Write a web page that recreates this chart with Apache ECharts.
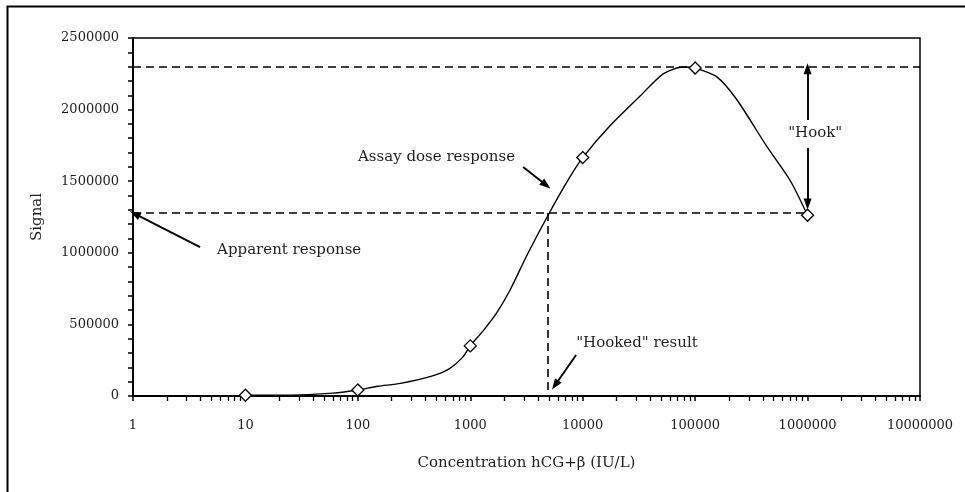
<!DOCTYPE html>
<html>
<head>
<meta charset="utf-8">
<script src="https://cdn.jsdelivr.net/npm/echarts@6/dist/echarts.min.js"></script>
<style>
  html, body { margin: 0; padding: 0; background: #fff; }
  #chart { width: 965px; height: 492px; }
</style>
</head>
<body>
<div id="chart"></div>
<script>
// ---- Data ----
// Measured standards (diamond markers)
const markerConc = [10, 100, 1000, 10000, 100000, 1000000];
const markerSignal = [5000, 42000, 350000, 1665000, 2290000, 1262000];

// Smoothed dose-response curve
const curveConc = [10, 30, 60, 100, 150, 240, 470, 650, 850, 1000, 1300, 1700, 2260, 3200, 5100, 7700, 10000, 17400, 32400, 52000, 78000, 100000, 157000, 236000, 437000, 700000, 1000000];
const curveSignal = [5000, 8000, 20000, 42000, 68000, 88000, 142000, 190000, 268000, 350000, 455000, 575000, 740000, 985000, 1285000, 1530000, 1665000, 1885000, 2095000, 2250000, 2298000, 2290000, 2227000, 2067000, 1739000, 1505000, 1262000];

// Tick labels
const xTickLabels = ['1', '10', '100', '1000', '10000', '100000', '1000000', '10000000'];
const yTickLabels = ['0', '500000', '1000000', '1500000', '2000000', '2500000'];

// Reference levels
const peakSignal = 2300000;
const apparentSignal = 1278000;
const hookedConc = 4900;

// Annotation texts
const annoTexts = ['Apparent response', 'Assay dose response', '"Hooked" result', '"Hook"'];

// ---- Chart ----
const FONT = 'DejaVu Serif';
const TXT = '#1e1e1e';
const chart = echarts.init(document.getElementById('chart'), null, { renderer: 'canvas' });

const curveData = curveConc.map((c, i) => [c, curveSignal[i]]);
const markerData = markerConc.map((c, i) => [c, markerSignal[i]]);

function dashed(a, b) {
  return [
    { coord: a, symbol: 'none', lineStyle: { type: [8, 5], width: 1.6, color: '#000' } },
    { coord: b, symbol: 'none' }
  ];
}
function arrow(a, b) {
  return [
    { coord: a, symbol: 'none', lineStyle: { type: 'solid', width: 1.9, color: '#000' } },
    { coord: b, symbol: 'triangle', symbolSize: [8, 11] }
  ];
}
function textPt(coord, text, align) {
  return {
    coord: coord, symbol: 'circle', symbolSize: 0,
    label: { show: true, position: 'inside', formatter: text, align: align, verticalAlign: 'middle',
      color: TXT, fontFamily: FONT, fontSize: 15 }
  };
}

const option = {
  animation: false,
  backgroundColor: '#fff',
  graphic: [{
    type: 'rect', left: 5, top: 4, silent: true,
    shape: { width: 1000, height: 1000 },
    style: { fill: 'none', stroke: '#000', lineWidth: 2 }
  }],
  grid: { left: 133, top: 38, right: 45, bottom: 96, show: true, borderColor: '#000', borderWidth: 1.5, backgroundColor: 'transparent' },
  xAxis: {
    type: 'log', logBase: 10, min: 1, max: 10000000,
    name: 'Concentration hCG+β (IU/L)', nameLocation: 'middle', nameGap: 60,
    nameTextStyle: { fontFamily: FONT, fontSize: 15, color: TXT },
    axisLine: { lineStyle: { color: '#000', width: 2 } },
    axisTick: { show: true, length: 5, inside: false, lineStyle: { color: '#000', width: 1.5 } },
    minorTick: { show: true, splitNumber: 9, length: 5, lineStyle: { color: '#000', width: 1.3 } },
    axisLabel: { margin: 23, fontFamily: FONT, fontSize: 13, color: TXT,
      formatter: function (v) { const i = Math.round(Math.log10(v)); return xTickLabels[i] !== undefined ? xTickLabels[i] : ''; } },
    splitLine: { show: false }, minorSplitLine: { show: false }
  },
  yAxis: {
    type: 'value', min: 0, max: 2500000, interval: 100000,
    name: 'Signal', nameLocation: 'middle', nameGap: 88,
    nameTextStyle: { fontFamily: FONT, fontSize: 15, color: TXT },
    axisLine: { show: true, lineStyle: { color: '#000', width: 2 } },
    axisTick: { show: true, length: 5, lineStyle: { color: '#000', width: 1.5 } },
    axisLabel: { margin: 14, fontFamily: FONT, fontSize: 13, color: TXT,
      formatter: function (v) { return (v % 500000 === 0) ? yTickLabels[v / 500000] : ''; } },
    splitLine: { show: false }
  },
  series: [
    {
      type: 'line', name: 'curve', data: curveData, smooth: 0.25, showSymbol: false, symbol: 'none',
      lineStyle: { color: '#000', width: 1.4 }, z: 3,
      markLine: {
        silent: true, animation: false, label: { show: false },
        data: [
          dashed([1, peakSignal], [10000000, peakSignal]),
          dashed([1, apparentSignal], [markerConc[5], apparentSignal]),
          dashed([hookedConc, apparentSignal], [hookedConc, 0]),
          arrow([3.95, 1040000], [1.04, 1272000]),
          arrow([2950, 1599000], [4720, 1473000]),
          arrow([8730, 286000], [5690, 77000]),
          arrow([1000000, 1927000], [1000000, 2285000]),
          arrow([1000000, 1732000], [1000000, 1340000])
        ]
      },
      markPoint: {
        silent: true, animation: false,
        data: [
          textPt([5.6, 1020000], annoTexts[0], 'left'),
          textPt([2500, 1669000], annoTexts[1], 'right'),
          textPt([8750, 370000], annoTexts[2], 'left'),
          textPt([1170000, 1836000], annoTexts[3], 'center')
        ]
      }
    },
    {
      type: 'scatter', name: 'standards', data: markerData, symbol: 'diamond', symbolSize: 12,
      itemStyle: { color: '#fff', borderColor: '#000', borderWidth: 1.3, opacity: 1 }, z: 5
    }
  ]
};
chart.setOption(option);
</script>
</body>
</html>
